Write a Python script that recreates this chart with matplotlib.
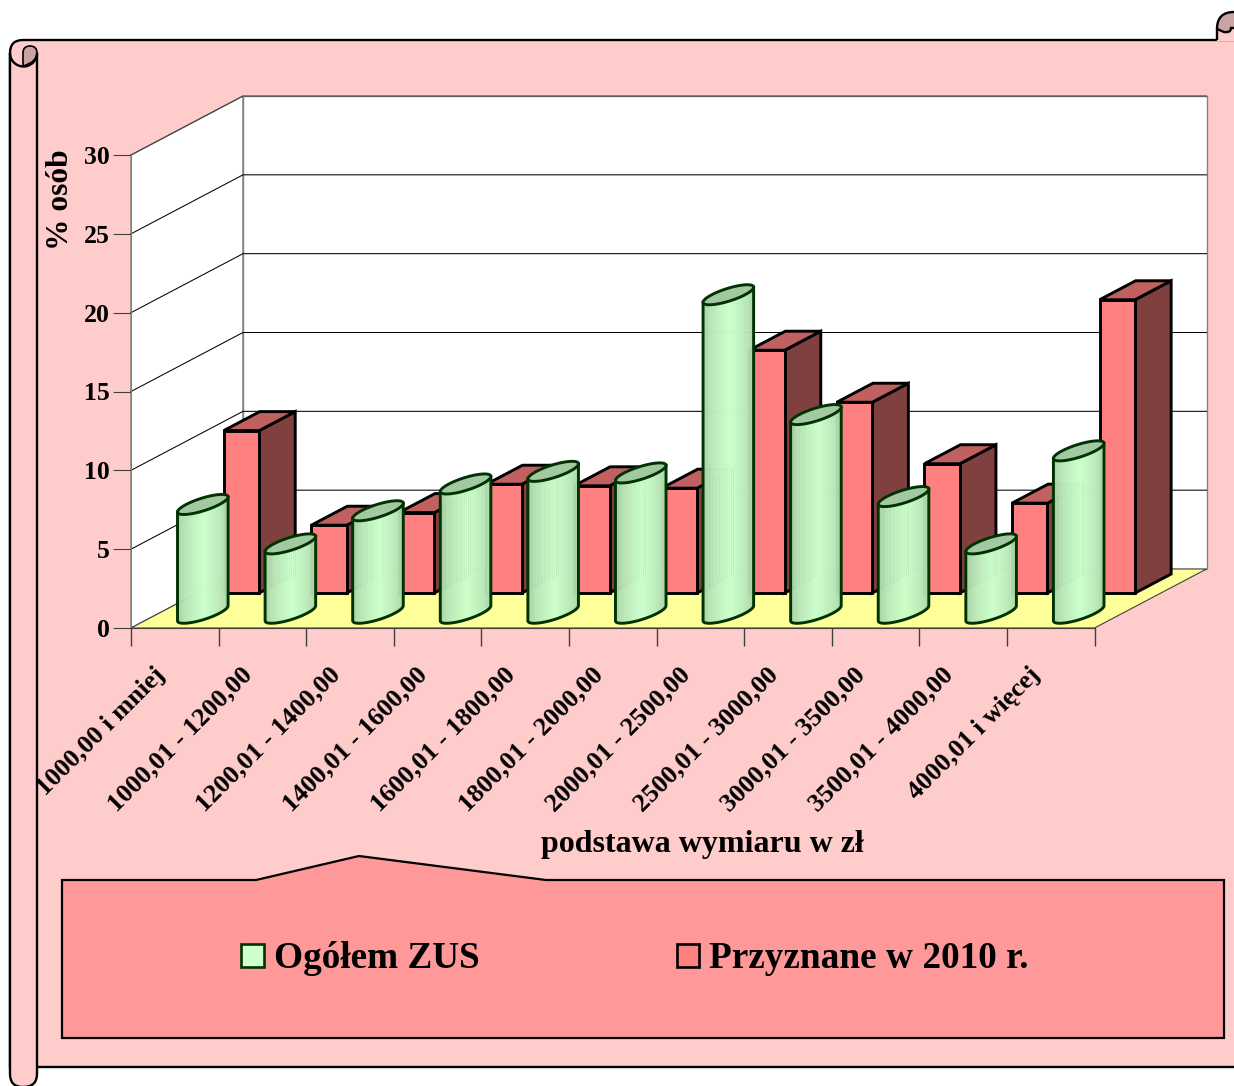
import numpy as np
import matplotlib
matplotlib.use("Agg")
import matplotlib.pyplot as plt
from matplotlib.patches import Polygon, PathPatch, Patch, Arc
from matplotlib.path import Path
from matplotlib.collections import PolyCollection

categories = ["1000,00 i mniej", "1000,01 - 1200,00", "1200,01 - 1400,00",
              "1400,01 - 1600,00", "1600,01 - 1800,00", "1800,01 - 2000,00",
              "2000,01 - 2500,00", "2500,01 - 3000,00", "3000,01 - 3500,00",
              "3500,01 - 4000,00", "4000,01 i więcej"]
ogolem_zus = [6.9, 4.4, 6.5, 8.2, 9.0, 8.9, 20.2, 12.6, 7.4, 4.4, 10.3]
przyznane = [10.3, 4.3, 5.1, 6.9, 6.8, 6.65, 15.4, 12.1, 8.2, 5.7, 18.6]
y_ticks = [0, 5, 10, 15, 20, 25, 30]

W, H = 1234, 1086
plt.rcParams['font.family'] = ['Liberation Serif', 'DejaVu Serif']
plt.rcParams['font.weight'] = 'bold'
fig = plt.figure(figsize=(W / 100, H / 100), dpi=100, facecolor='white')

# ---------- decorative scroll (pixel space) ----------
bg = fig.add_axes([0, 0, 1, 1], zorder=0)
bg.set_xlim(0, W)
bg.set_ylim(H, 0)
bg.axis('off')
PINK = '#FFCCCC'
CURL = '#CCA3A3'
M, L, C, Z = Path.MOVETO, Path.LINETO, Path.CURVE3, Path.CLOSEPOLY


def shape(verts, codes, fc, ec='black', lw=1.7, z=1):
    bg.add_patch(PathPatch(Path(verts, codes), fc=fc, ec=ec, lw=lw, zorder=z, clip_on=True))


shape([(10, 53), (10, 40), (23, 40), (1245, 40), (1245, 1067), (37, 1067), (10, 1067), (10, 53)],
      [M, C, C, L, L, L, L, L], PINK)
shape([(10, 53), (10, 1074), (10, 1087), (23, 1087), (37, 1087), (37, 1074), (37, 53)],
      [M, L, C, C, C, C, L], PINK, z=2)
shape([(23, 66), (23, 53), (23, 46), (30, 46), (37, 46), (37, 53), (37, 62), (23, 66)],
      [M, L, C, C, C, C, C, C], CURL, lw=1.2, z=3)
bg.add_patch(Arc((23.5, 53), 27, 27, theta1=0, theta2=180, color='black', lw=1.7, zorder=4))
shape([(1217, 40), (1217, 28)], [M, L], 'none', z=2)
bg.fill([1217, 1245, 1245, 1217], [25, 25, 40, 40], color=PINK, zorder=1.5)
shape([(1217, 29), (1217, 12), (1234, 12), (1245, 12), (1245, 28), (1231, 28), (1231, 33), (1224, 32), (1217, 29)],
      [M, C, C, L, L, L, C, C, L], CURL, z=3)
# legend box
bg.add_patch(Polygon([(62, 880), (256, 880), (359, 856), (546, 880), (1224, 880), (1224, 1038), (62, 1038)],
                     closed=True, fc='#FF9999', ec='black', lw=1.6, zorder=5))

# ---------- chart ----------
x0, x1, y0, y1 = 131, 1094.5, 628, 155
ax = fig.add_axes([x0 / W, 1 - y0 / H, (x1 - x0) / W, (y0 - y1) / H], zorder=1)
ax.patch.set_alpha(0)
n = len(categories)
ax.set_xlim(0, n)
ax.set_ylim(0, 30)
DX = 112 / ((x1 - x0) / n)
DY = 59 / ((y0 - y1) / 30)


def pr(cat, val, depth):
    """Oblique projection of (category, value, depth) to data coordinates."""
    return cat + depth * DX, val + depth * DY


def poly(pts, z, **kw):
    ax.add_patch(Polygon(pts, closed=True, zorder=z, clip_on=False, **kw))


WALL = '#808080'
poly([pr(0, 0, 0), pr(0, 0, 1), pr(0, 30, 1), pr(0, 30, 0)], 1, fc='white', ec=WALL, lw=1)
poly([pr(0, 0, 1), pr(n, 0, 1), pr(n, 30, 1), pr(0, 30, 1)], 1, fc='white', ec=WALL, lw=1)
poly([pr(0, 0, 0), pr(n, 0, 0), pr(n, 0, 1), pr(0, 0, 1)], 2, fc='#FFFF99', ec='#404040', lw=0.8)
for v in y_ticks[1:]:
    a, b, c = pr(0, v, 0), pr(0, v, 1), pr(n, v, 1)
    col = 'black' if v < 30 else '#404040'
    ax.plot([a[0], b[0], c[0]], [a[1], b[1], c[1]], color=col, lw=0.75, zorder=1.5, clip_on=False)

# red boxes
RX0, RX1, RD0, RD1 = 0.30, 0.705, 0.593, 0.915
for i, v in enumerate(przyznane):
    l, r = i + RX0, i + RX1
    kw = dict(ec='black', lw=2.1, joinstyle='miter')
    poly([pr(r, 0, RD0), pr(r, 0, RD1), pr(r, v, RD1), pr(r, v, RD0)], 3, fc='#804040', **kw)
    poly([pr(l, v, RD0), pr(r, v, RD0), pr(r, v, RD1), pr(l, v, RD1)], 3, fc='#C06060', **kw)
    poly([pr(l, 0, RD0), pr(r, 0, RD0), pr(r, v, RD0), pr(l, v, RD0)], 3.1, fc='#FF8080', **kw)

# green cylinders
HW, HD, GD = 0.19, 0.17, 0.25
a_px, b_px = HW * (x1 - x0) / n, HD * 112
t0 = np.arctan2(-b_px, -a_px)
light = np.array([0xCC, 0xFF, 0xCC]) / 255
dark = np.array([0x9C, 0xC4, 0x9C]) / 255


def ellipse(cx, val, t):
    return pr(cx + HW * np.cos(t), val, GD + HD * np.sin(t))


tt = np.linspace(t0, t0 + np.pi, 40)
tf = np.linspace(0, 2 * np.pi, 80)
for i, v in enumerate(ogolem_zus):
    cx = i + 0.5
    z = 4 + i * 0.01
    bx, by = ellipse(cx, 0, tt)
    tx, ty = ellipse(cx, v, tt)
    polys, cols = [], []
    for k in range(len(tt) - 1):
        polys.append([(bx[k], by[k]), (bx[k + 1], by[k + 1]), (tx[k + 1], ty[k + 1]), (tx[k], ty[k])])
        s = (k + 0.5) / (len(tt) - 1)
        w = np.clip(1 - abs(s - 0.52) / 0.5, 0, 1) ** 0.8
        cols.append(dark + (light - dark) * w)
    ax.add_collection(PolyCollection(polys, facecolors=cols, edgecolors=cols, linewidths=0.4,
                                     zorder=z, clip_on=False))
    ox = np.r_[tx[0], bx, tx[-1]]
    oy = np.r_[ty[0], by, ty[-1]]
    ax.plot(ox, oy, color='#003300', lw=2.1, zorder=z + 0.001, clip_on=False)
    ex, ey = ellipse(cx, v, tf)
    ax.fill(ex, ey, fc='#A3C9A3', ec='#003300', lw=2.1, zorder=z + 0.002, clip_on=False)

# axes furniture
for s in ('top', 'right'):
    ax.spines[s].set_visible(False)
ax.spines['left'].set_color(WALL)
ax.spines['bottom'].set_color('#404040')
ax.set_yticks(y_ticks)
ax.set_yticklabels([str(v) for v in y_ticks], fontsize=18.5, fontweight='bold')
ax.tick_params(axis='y', length=13, width=0.8, color='#404040', pad=2)
ax.set_xticks(np.arange(n + 1))
ax.set_xticklabels([])
ax.tick_params(axis='x', which='major', length=13, width=1, color='#404040')
ax.set_xticks(np.arange(n) + 0.25, minor=True)
ax.set_xticklabels(categories, minor=True, rotation=45, ha='right', va='top',
                   rotation_mode='anchor', fontsize=19, fontweight='bold')
ax.tick_params(axis='x', which='minor', length=0, pad=25)
ax.set_xlabel("podstawa wymiaru w zł", fontsize=23, fontweight='bold', va='center')
ax.xaxis.set_label_coords((702 - x0) / (x1 - x0), (y0 - 845) / (y0 - y1))
ax.set_ylabel("% osób", fontsize=22.6, fontweight='bold', va='center')
ax.yaxis.set_label_coords((60.5 - x0) / (x1 - x0), (y0 - 200) / (y0 - y1))

handles = [Patch(fc='#CCFFCC', ec='#003300', lw=1.9), Patch(fc='#FF8080', ec='black', lw=1.9)]
leg = ax.legend(handles, ["Ogółem ZUS", "Przyznane w 2010 r."], ncol=2, frameon=False,
                loc='center', bbox_to_anchor=(635 / W, 1 - 959 / H), bbox_transform=fig.transFigure,
                prop={'family': 'Liberation Serif', 'weight': 'bold', 'size': 26.8},
                handlelength=0.6, handleheight=0.6, handletextpad=0.27, columnspacing=5.3)

fig.savefig("out.png", dpi=100)
